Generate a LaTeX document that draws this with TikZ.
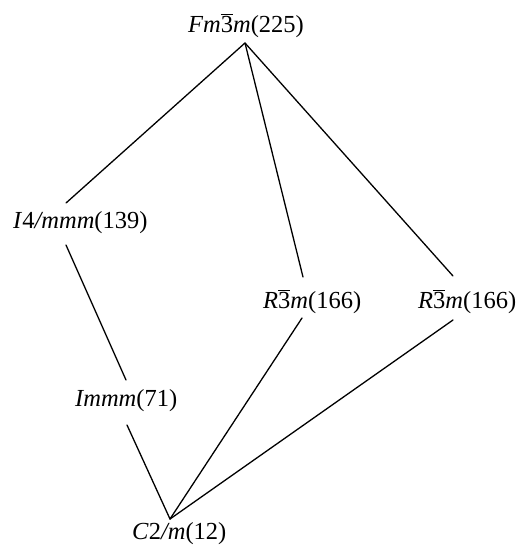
\documentclass[tikz,border=0pt]{standalone}
\usepackage{fontspec}
\setmainfont{Liberation Serif}
\newcommand{\ovthree}{\ensuremath{\overline{\mbox{3}}}}
\begin{document}
\begin{tikzpicture}[x=1pt,y=-1pt,
  lbl/.style={anchor=base west,inner sep=0pt,font=\fontsize{24.5}{29}\selectfont},
  edge/.style={line width=1.3pt,line cap=round}]
\useasboundingbox (0,0) rectangle (516,546);
\node[lbl] (fm) at (188,32) {\textit{Fm}\ovthree\textit{m}(225)};
\node[lbl] (i4) at (13,228) {\textit{I}4\textit{/mmm}(139)};
\node[lbl] (rm) at (263,308) {\textit{R}\ovthree\textit{m}(166)};
\node[lbl] (rr) at (418,308) {\textit{R}\ovthree\textit{m}(166)};
\node[lbl] (im) at (75,406) {\textit{Immm}(71)};
\node[lbl] (c2) at (132,539) {\textit{C}2\textit{/m}(12)};
\coordinate (top) at (245,43);
\coordinate (bot) at (170,519);
\coordinate (i4t) at (66,203);
\coordinate (i4b) at (66,245);
\coordinate (imt) at (126,380);
\coordinate (imb) at (127,425);
\coordinate (rmt) at (303,277);
\coordinate (rmb) at (302,318);
\coordinate (rrt) at (453,276);
\coordinate (rrb) at (453,320);
\draw[edge] (top) -- (i4t);
\draw[edge] (top) -- (rmt);
\draw[edge] (top) -- (rrt);
\draw[edge] (i4b) -- (imt);
\draw[edge] (imb) -- (bot);
\draw[edge] (rmb) -- (bot);
\draw[edge] (rrb) -- (bot);
\end{tikzpicture}
\end{document}
